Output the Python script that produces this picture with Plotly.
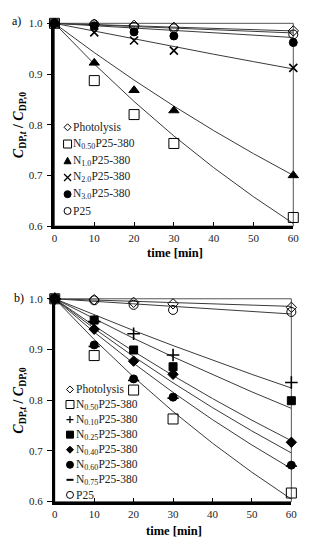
import plotly.graph_objects as go

W, H = 309, 550
OFF = 0  # body margin removed by post_script

# ---------------- data ----------------
t = [0, 10, 20, 30, 60]
t_fit = [0, 10, 20, 30, 40, 50, 60]

# panel a) measured points
a_names = ["Photolysis", "N<sub>0.50</sub>P25-380", "N<sub>1.0</sub>P25-380",
           "N<sub>2.0</sub>P25-380", "N<sub>3.0</sub>P25-380", "P25"]
a_photolysis = [1.0, 0.998, 0.996, 0.992, 0.985]
a_n050 = [1.0, 0.887, 0.820, 0.763, 0.617]
a_n10 = [1.0, 0.922, 0.868, 0.828, 0.700]
a_n20 = [1.0, 0.982, 0.966, 0.946, 0.912]
a_n30 = [1.0, 0.995, 0.983, 0.975, 0.962]
a_p25 = [1.0, 0.998, 0.993, 0.990, 0.978]
# panel a) fitted curves
a_fit_photolysis = [1.0, 0.9975, 0.995, 0.9925, 0.990, 0.9875, 0.985]
a_fit_n050 = [1.0, 0.9197, 0.8458, 0.7778, 0.7153, 0.6579, 0.605]
a_fit_n10 = [1.0, 0.9423, 0.8880, 0.8367, 0.7884, 0.7429, 0.700]
a_fit_n20 = [1.0, 0.9844, 0.9691, 0.9539, 0.9390, 0.9244, 0.910]
a_fit_n30 = [1.0, 0.9953, 0.9906, 0.9859, 0.9812, 0.9766, 0.972]
a_fit_p25 = [1.0, 0.9968, 0.9937, 0.9905, 0.9873, 0.9842, 0.981]

# panel b) measured points
b_names = ["Photolysis", "N<sub>0.50</sub>P25-380", "N<sub>0.10</sub>P25-380",
           "N<sub>0.25</sub>P25-380", "N<sub>0.40</sub>P25-380",
           "N<sub>0.60</sub>P25-380", "N<sub>0.75</sub>P25-380", "P25"]
b_photolysis = [1.0, 0.998, 0.993, 0.990, 0.983]
b_n050 = [1.0, 0.888, 0.820, 0.763, 0.617]
b_n010 = [1.0, 0.955, 0.931, 0.889, 0.835]
b_n025 = [1.0, 0.958, 0.899, 0.866, 0.799]
b_n040 = [1.0, 0.940, 0.877, 0.851, 0.717]
b_n060 = [1.0, 0.909, 0.842, 0.806, 0.672]
b_n075 = [1.0, 0.906, 0.839, 0.804, 0.670]
b_p25 = [1.0, 0.997, 0.988, 0.978, 0.974]
# panel b) fitted curves
b_fit_photolysis = [1.0, 0.9975, 0.995, 0.9925, 0.990, 0.9875, 0.985]
b_fit_n050 = [1.0, 0.9197, 0.8458, 0.7778, 0.7153, 0.6579, 0.605]
b_fit_n010 = [1.0, 0.9682, 0.9374, 0.9077, 0.8788, 0.8509, 0.824]
b_fit_n025 = [1.0, 0.9602, 0.9220, 0.8854, 0.8502, 0.8164, 0.784]
b_fit_n040 = [1.0, 0.9467, 0.8963, 0.8485, 0.8033, 0.7605, 0.720]
b_fit_n060 = [1.0, 0.9342, 0.8728, 0.8154, 0.7617, 0.7116, 0.665]
b_fit_n075 = [1.0, 0.9414, 0.8862, 0.8343, 0.7854, 0.7393, 0.696]
b_fit_p25 = [1.0, 0.995, 0.990, 0.985, 0.980, 0.975, 0.970]

x_ticks = [0, 10, 20, 30, 40, 50, 60]
y_ticks = [0.6, 0.7, 0.8, 0.9, 1.0]

# ---------------- styles ----------------
FONT = "Liberation Serif"
LINE_COL = "#3a3a3a"

a_series = [
    (a_photolysis, a_fit_photolysis, "diamond-open", 8),
    (a_n050, a_fit_n050, "square-open", 10),
    (a_n10, a_fit_n10, "triangle-up", 9),
    (a_n20, a_fit_n20, "x-thin-open", 8),
    (a_n30, a_fit_n30, "circle", 8),
    (a_p25, a_fit_p25, "circle-open", 9),
]
b_series = [
    (b_photolysis, b_fit_photolysis, "diamond-open", 8),
    (b_n050, b_fit_n050, "square-open", 10),
    (b_n010, b_fit_n010, "cross-thin-open", 9),
    (b_n025, b_fit_n025, "square", 8),
    (b_n040, b_fit_n040, "diamond", 8),
    (b_n060, b_fit_n060, "circle", 8),
    (b_n075, b_fit_n075, "line-ew-open", 8),
    (b_p25, b_fit_p25, "circle-open", 9),
]

fig = go.Figure()


def add_panel(series, names, xa, ya):
    for (pts, fit, sym, sz), nm in zip(series, names):
        fig.add_trace(go.Scatter(x=t_fit, y=fit, mode="lines",
                                 line=dict(color=LINE_COL, width=1),
                                 xaxis=xa, yaxis=ya, showlegend=False,
                                 hoverinfo="skip"))
    for (pts, fit, sym, sz), nm in zip(series, names):
        thin = ("thin" in sym) or sym.startswith("line")
        fig.add_trace(go.Scatter(
            x=t, y=pts, mode="markers", name=nm, showlegend=False,
            xaxis=xa, yaxis=ya, cliponaxis=False,
            marker=dict(symbol=sym, size=sz, color="black",
                        line=dict(color="black", width=1.6 if thin else 1))))


add_panel(a_series, a_names, "x", "y")
add_panel(b_series, b_names, "x2", "y2")


# ---------------- layout ----------------
def px_x(p):
    return (p - OFF) / W


def px_y(p):
    return 1 - (p - OFF) / H


dom_x1 = [px_x(53), px_x(299)]
dom_y1 = [px_y(225), px_y(17.7)]
dom_x2 = [px_x(53.3), px_x(297)]
dom_y2 = [px_y(506.7), px_y(299.3)]

tickfont = dict(family=FONT, size=11, color="#222")


def xaxis(dom, anchor):
    return dict(domain=dom, anchor=anchor, range=[0, 60], tickvals=x_ticks,
                showgrid=False, zeroline=False, showline=True, linewidth=2.5,
                linecolor="black", ticks="inside", ticklen=4, tickwidth=1,
                tickcolor="black", tickfont=tickfont, ticklabelstandoff=0)


def yaxis(dom, anchor):
    return dict(domain=dom, anchor=anchor, range=[0.6, 1.0], tickvals=y_ticks,
                tickformat=".1f", showgrid=False, zeroline=False, showline=True,
                linewidth=2.5, linecolor="black", ticks="outside", ticklen=5,
                tickwidth=1, tickcolor="black", tickfont=tickfont,
                ticklabelstandoff=2)


shapes = []
for xr, yr in [("x domain", "y domain"), ("x2 domain", "y2 domain")]:
    shapes.append(dict(type="rect", xref=xr, yref=yr, x0=0, x1=1, y0=0, y1=1,
                       line=dict(color="#555", width=1), layer="below"))


def legend_symbol(sym, cx, cy):
    base = dict(xref="paper", yref="paper", xsizemode="pixel", ysizemode="pixel",
                xanchor=px_x(cx), yanchor=px_y(cy),
                line=dict(color="black", width=1))
    filled = not sym.endswith("-open")
    fill = "black" if filled else "white"
    if sym.startswith("circle"):
        return dict(base, type="circle", x0=-3.5, x1=3.5, y0=-3.5, y1=3.5, fillcolor=fill)
    if sym.startswith("square"):
        r = 3.5 if sym == "square" else 4
        return dict(base, type="rect", x0=-r, x1=r, y0=-r, y1=r, fillcolor=fill)
    if sym.startswith("diamond"):
        r = 3.5
        return dict(base, type="path", path=f"M0,{r} L{r},0 L0,-{r} L-{r},0 Z", fillcolor=fill)
    if sym.startswith("triangle"):
        return dict(base, type="path", path="M-3.5,-3 L3.5,-3 L0,3.5 Z", fillcolor="black")
    if sym.startswith("x"):
        b = dict(base, type="path", path="M-3.5,-3.5 L3.5,3.5 M-3.5,3.5 L3.5,-3.5")
        b["line"] = dict(color="black", width=1.3)
        return b
    if sym.startswith("cross"):
        b = dict(base, type="path", path="M-3.5,0 L3.5,0 M0,3.5 L0,-3.5")
        b["line"] = dict(color="black", width=1.3)
        return b
    if sym.startswith("line"):
        b = dict(base, type="path", path="M-3.5,0 L3.5,0")
        b["line"] = dict(color="black", width=2)
        return b


annotations = []
legfont = dict(family=FONT, size=11.5, color="#222")


def add_legend(series, names, x_sym, x_txt, y0, dy):
    for i, ((pts, fit, sym, sz), nm) in enumerate(zip(series, names)):
        cy = y0 + i * dy
        shapes.append(legend_symbol(sym, x_sym, cy))
        annotations.append(dict(xref="paper", yref="paper", x=px_x(x_txt), y=px_y(cy),
                                xanchor="left", yanchor="middle", text=nm,
                                showarrow=False, font=legfont))


add_legend(a_series, a_names, 66.5, 70.5, 124, 17.1)
add_legend(b_series, b_names, 69, 73, 392, 15.4)

ytitle = "<b><i>C</i><sub>DP,<i>t</i></sub> / <i>C</i><sub>DP,0</sub></b>"
for cy in [(17.7 + 225) / 2, (299.3 + 506.7) / 2]:
    annotations.append(dict(xref="paper", yref="paper", x=px_x(17), y=px_y(cy),
                            xanchor="center", yanchor="middle", textangle=-90,
                            text=ytitle, showarrow=False,
                            font=dict(family=FONT, size=14, color="black")))
for cx, cy in [(177, 252), (176, 537)]:
    annotations.append(dict(xref="paper", yref="paper", x=px_x(cx), y=px_y(cy),
                            xanchor="center", yanchor="middle",
                            text="<b>time [min]</b>", showarrow=False,
                            font=dict(family=FONT, size=12.5, color="black")))
for lab, cx, cy in [("a)", 14, 15), ("b)", 16, 299)]:
    annotations.append(dict(xref="paper", yref="paper", x=px_x(cx), y=px_y(cy),
                            xanchor="center", yanchor="middle", text=lab,
                            showarrow=False,
                            font=dict(family=FONT, size=12, color="black")))

fig.update_layout(
    width=W, height=H, margin=dict(l=0, r=0, t=0, b=0),
    paper_bgcolor="white", plot_bgcolor="white", showlegend=False,
    xaxis=xaxis(dom_x1, "y"), yaxis=yaxis(dom_y1, "x"),
    xaxis2=xaxis(dom_x2, "y2"), yaxis2=yaxis(dom_y2, "x2"),
    shapes=shapes, annotations=annotations,
)

fig.write_html("out.html",
               config={"displayModeBar": False},
               post_script="document.body.style.margin='0px';"
                           "document.body.style.overflow='hidden';")
